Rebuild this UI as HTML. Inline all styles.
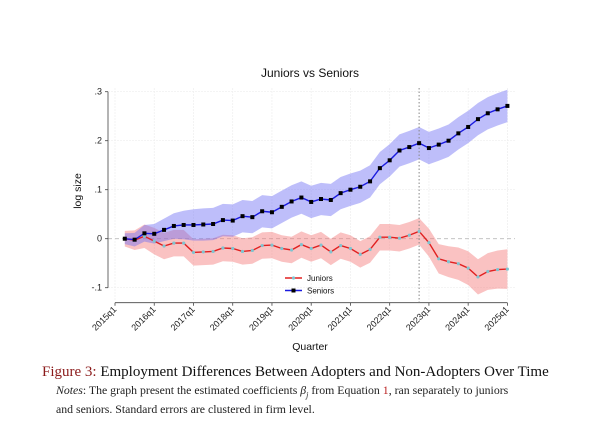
<!DOCTYPE html>
<html><head><meta charset="utf-8"><style>
html,body{margin:0;padding:0;background:#fff;width:600px;height:429px;overflow:hidden}
.cap{position:absolute;left:42px;top:364px;font-family:"Liberation Serif",serif;font-size:15px;color:#111;white-space:nowrap}
.cap b{color:#8b1a1a;font-weight:normal}
.notes{position:absolute;left:56px;top:383px;font-family:"Liberation Serif",serif;font-size:11.8px;line-height:14px;color:#222;width:540px}
</style></head><body>
<svg id="s" width="600" height="429" style="position:absolute;left:0;top:0" font-family="Liberation Sans, sans-serif"></svg>
<div class="cap"><b>Figure 3:</b> Employment Differences Between Adopters and Non-Adopters Over Time</div>
<div class="notes"><i>Notes</i>: The graph present the estimated coefficients <i>β<sub style="font-size:8px">j</sub></i> from Equation <span style="color:#b22">1</span>, ran separately to juniors<br>and seniors. Standard errors are clustered in firm level.</div>
<script>
const S=[0,-0.002,0.011,0.010,0.018,0.026,0.028,0.028,0.029,0.030,0.038,0.037,0.046,0.044,0.056,0.054,0.065,0.076,0.084,0.075,0.081,0.079,0.093,0.100,0.106,0.117,0.144,0.160,0.180,0.187,0.195,0.185,0.192,0.200,0.215,0.228,0.244,0.256,0.264,0.271];
const J=[0,-0.003,0.005,-0.005,-0.015,-0.009,-0.009,-0.028,-0.027,-0.026,-0.019,-0.020,-0.026,-0.024,-0.014,-0.013,-0.020,-0.023,-0.012,-0.020,-0.013,-0.027,-0.014,-0.020,-0.032,-0.022,0.003,0.003,0.001,0.007,0.015,-0.008,-0.041,-0.047,-0.051,-0.060,-0.078,-0.067,-0.063,-0.062];
const X=i=>115+i*9.81, Y=v=>238.7-490*v;
let h='';
for(let k=0;k<=10;k++){h+=`<line x1="${X(4*k)}" y1="88" x2="${X(4*k)}" y2="300" stroke="#eee" stroke-width="0.7" stroke-dasharray="2,1"/>`;}
[0.3,0.2,0.1,-0.1].forEach(v=>h+=`<line x1="108" y1="${Y(v)}" x2="515" y2="${Y(v)}" stroke="#eee" stroke-width="0.7" stroke-dasharray="2,1"/>`);
h+=`<line x1="108" y1="${Y(0)}" x2="515" y2="${Y(0)}" stroke="#bbb" stroke-width="0.8" stroke-dasharray="4,3"/>`;
function band(arr,hw,col){let up=[],lo=[];arr.forEach((v,k)=>{const i=k+1,w=hw(i);up.push(X(i)+','+Y(v+w));lo.unshift(X(i)+','+Y(v-w));});return `<polygon points="${up.concat(lo).join(' ')}" fill="${col}"/>`;}
h+=band(J,i=>Math.min(0.012+0.004*i,0.027)+(i>31?0.0015*(i-31):0),'rgba(245,120,120,0.45)');
h+=band(S,i=>Math.min(0.008+0.003*i,0.033),'rgba(110,110,245,0.45)');
h+=`<line x1="${X(31)}" y1="88" x2="${X(31)}" y2="302" stroke="#888" stroke-width="1" stroke-dasharray="1.5,2"/>`;
const pl=a=>a.map((v,k)=>X(k+1)+','+Y(v)).join(' ');
h+=`<polyline points="${pl(J)}" fill="none" stroke="#e02020" stroke-width="1.4"/>`;
J.forEach((v,k)=>h+=`<circle cx="${X(k+1)}" cy="${Y(v)}" r="1.6" fill="#7fc4d0"/>`);
h+=`<polyline points="${pl(S)}" fill="none" stroke="#1a1ae0" stroke-width="1.4"/>`;
S.forEach((v,k)=>h+=`<rect x="${X(k+1)-2}" y="${Y(v)-2}" width="4" height="4" fill="#000"/>`);
h+=`<line x1="108" y1="${Y(0.3)}" x2="108" y2="${Y(-0.1)}" stroke="#444" stroke-width="0.8"/>`;
h+=`<line x1="${X(0)}" y1="302.7" x2="${X(40)}" y2="302.7" stroke="#444" stroke-width="0.8"/>`;
[[0.3,'.3'],[0.2,'.2'],[0.1,'.1'],[0,'0'],[-0.1,'-.1']].forEach(([v,t])=>{h+=`<line x1="105" y1="${Y(v)}" x2="108" y2="${Y(v)}" stroke="#444" stroke-width="0.8"/><text x="102" y="${Y(v)+3}" font-size="9" text-anchor="end" fill="#222">${t}</text>`;});
for(let k=0;k<=10;k++){const x=X(4*k);h+=`<line x1="${x}" y1="302.7" x2="${x}" y2="305.7" stroke="#444" stroke-width="0.8"/><text transform="translate(${x+2},${310}) rotate(-45)" font-size="9" text-anchor="end" fill="#222">${2015+k}q1</text>`;}
h+=`<text x="310" y="77" font-size="12" text-anchor="middle" fill="#111">Juniors vs Seniors</text>`;
h+=`<text x="310" y="350" font-size="10.5" text-anchor="middle" fill="#111">Quarter</text>`;
h+=`<text transform="translate(81,191) rotate(-90)" font-size="10.5" text-anchor="middle" fill="#111">log size</text>`;
h+=`<line x1="285" y1="278" x2="302" y2="278" stroke="#e02020" stroke-width="1.4"/><circle cx="293.5" cy="278" r="1.6" fill="#7fc4d0"/><text x="307" y="281" font-size="8" fill="#111">Juniors</text>`;
h+=`<line x1="285" y1="290.5" x2="302" y2="290.5" stroke="#1a1ae0" stroke-width="1.4"/><rect x="291.5" y="288.5" width="4" height="4" fill="#000"/><text x="307" y="293.5" font-size="8" fill="#111">Seniors</text>`;
document.getElementById('s').innerHTML=h;
</script>
</body></html>
